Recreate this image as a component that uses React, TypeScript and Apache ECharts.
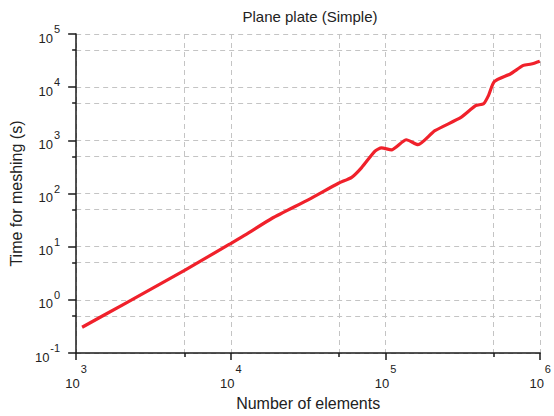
import React, { useEffect, useRef } from "react";
import * as echarts from "echarts";

// Number of elements in the mesh and the measured meshing time (seconds)
const elements = [
  1093, 2000, 5088, 9750, 12490, 18490, 31840, 49650, 60420, 70100, 85500,
  94200, 109200, 136400, 162200, 208600, 307600, 382300, 430500, 463600,
  504600, 644600, 778000, 875600, 993800,
];
const meshTimes = [
  0.306, 0.81, 3.66, 11.07, 16.9, 34.3, 76.9, 156, 202, 308, 628, 722, 663,
  1028, 831, 1520, 2698, 4487, 4887, 7015, 12730, 17880, 25650, 27230, 30800,
];

// Decade exponents for the axes and the 5x minor positions between them
const xDecades = [3, 4, 5, 6];
const yDecades = [-1, 0, 1, 2, 3, 4, 5];
const xMinor = xDecades.slice(0, -1).map((d) => d + Math.log10(5));
const yMinor = yDecades.slice(0, -1).map((d) => d + Math.log10(5));

const FONT = "'Liberation Sans', Arial, sans-serif";
const GRID_COLOR = "#c4c4c4";
const AXIS_COLOR = "#1a1a1a";
const TEXT_COLOR = "#222";

const powerLabel = (v: number) => `{b|10}{s|${Math.round(v)}}`;

const richFor = (lh: number) => ({
  b: {
    fontSize: 13,
    fontFamily: FONT,
    color: TEXT_COLOR,
    lineHeight: lh,
    verticalAlign: "bottom",
  },
  s: {
    fontSize: 11,
    fontFamily: FONT,
    color: TEXT_COLOR,
    lineHeight: lh,
    verticalAlign: "top",
    padding: [0, 0, 0, 1],
  },
});

const splitStyle = {
  show: true,
  lineStyle: { color: GRID_COLOR, type: [5, 4] as number[], width: 1 },
};

export default function App() {
  const ref = useRef<HTMLDivElement>(null);

  useEffect(() => {
    if (!ref.current) return;
    const chart = echarts.init(ref.current, null, { renderer: "svg" });

    const points = elements.map((n, i) => [Math.log10(n), Math.log10(meshTimes[i])]);

    chart.setOption({
      animation: false,
      backgroundColor: "#ffffff",
      title: {
        text: "Plane plate (Simple)",
        left: 305,
        top: 4,
        textAlign: "center",
        textStyle: { fontFamily: FONT, fontSize: 15, fontWeight: "normal", color: TEXT_COLOR },
      },
      grid: { left: 76, right: 11, top: 34, bottom: 57, containLabel: false },
      xAxis: [
        {
          type: "value",
          min: 3,
          max: 6,
          interval: 1,
          position: "bottom",
          name: "Number of elements",
          nameLocation: "middle",
          nameGap: 37,
          nameTextStyle: { fontFamily: FONT, fontSize: 16, color: TEXT_COLOR },
          axisLine: { show: true, onZero: false, lineStyle: { color: AXIS_COLOR, width: 1.5 } },
          axisTick: { show: true, inside: false, length: 7, customValues: xDecades, lineStyle: { color: AXIS_COLOR, width: 1.5 } },
          axisLabel: { customValues: xDecades, margin: 10, formatter: powerLabel, rich: richFor(27) },
          splitLine: splitStyle,
        },
        {
          type: "value",
          min: 3,
          max: 6,
          interval: 1,
          position: "bottom",
          offset: 0,
          axisLine: { show: false, onZero: false },
          axisTick: { show: true, inside: false, length: 4, customValues: xMinor, lineStyle: { color: AXIS_COLOR, width: 1.5 } },
          axisLabel: { show: false },
          splitLine: splitStyle,
        },
      ],
      yAxis: [
        {
          type: "value",
          min: -1,
          max: 5,
          interval: 1,
          position: "left",
          name: "Time for meshing (s)",
          nameLocation: "middle",
          nameGap: 42,
          nameTextStyle: { fontFamily: FONT, fontSize: 16, color: TEXT_COLOR },
          axisLine: { show: true, onZero: false, lineStyle: { color: AXIS_COLOR, width: 1.5 } },
          axisTick: { show: true, inside: false, length: 8, customValues: yDecades, lineStyle: { color: AXIS_COLOR, width: 1.5 } },
          axisLabel: { customValues: yDecades, margin: 16, formatter: powerLabel, rich: richFor(21) },
          splitLine: splitStyle,
        },
        {
          type: "value",
          min: -1,
          max: 5,
          interval: 1,
          position: "left",
          offset: 0,
          axisLine: { show: false, onZero: false },
          axisTick: { show: true, inside: false, length: 4, customValues: yMinor, lineStyle: { color: AXIS_COLOR, width: 1.5 } },
          axisLabel: { show: false },
          splitLine: splitStyle,
        },
      ],
      series: [
        {
          type: "line",
          data: points,
          showSymbol: false,
          smooth: 0.2,
          lineStyle: { color: "#f0212b", width: 3.2 },
          z: 5,
        },
      ],
    });

    return () => chart.dispose();
  }, []);

  return <div ref={ref} style={{ width: 554, height: 416, position: "absolute", left: 0, top: 0 }} />;
}
